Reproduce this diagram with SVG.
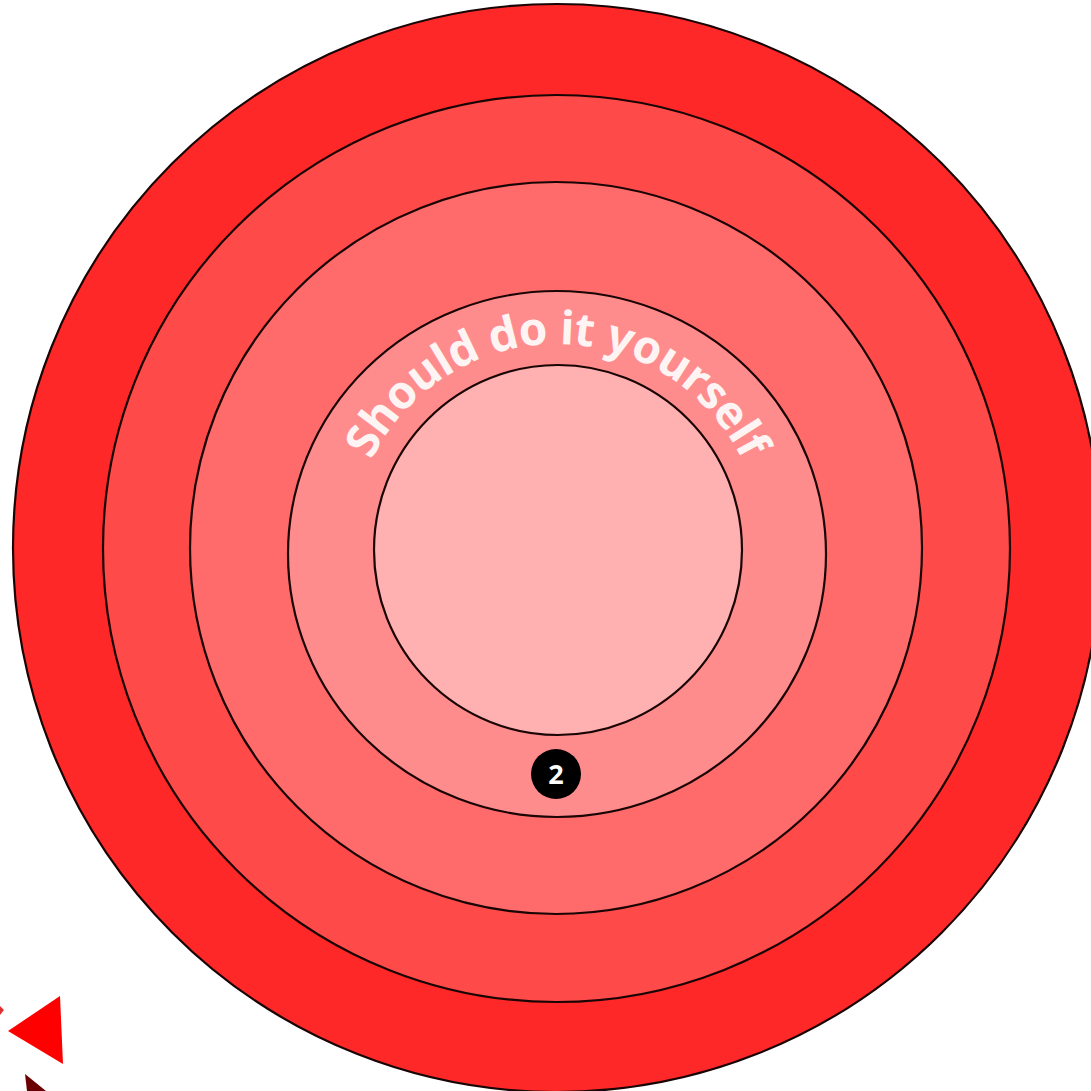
<svg xmlns="http://www.w3.org/2000/svg" width="1091" height="1091" viewBox="0 0 1091 1091">
  <style>
    .ring { stroke: #1a0505; stroke-width: 2.2; }
    .label { font-family: "Noto Sans", "Open Sans", "Liberation Sans", sans-serif; font-weight: bold; fill: #fff4f4; }
  </style>
  <defs>
    <path id="arcText" d="M 351,550 A 206 206 0 0 1 763,550"/>
  </defs>
  <rect width="1091" height="1091" fill="#ffffff"/>
  <g id="ring-1">
    <circle class="ring" cx="557" cy="548" r="544" fill="#ff2828"/>
  </g>
  <g id="ring-2">
    <circle class="ring" cx="556.5" cy="548.5" r="453.5" fill="#ff4a4a"/>
  </g>
  <g id="ring-3">
    <circle class="ring" cx="556" cy="548" r="366" fill="#ff6b6b"/>
  </g>
  <g id="ring-4">
    <ellipse class="ring" cx="557" cy="554" rx="269" ry="263" fill="#ff8c8c"/>
    <text class="label" font-size="46" letter-spacing="-0.5">
      <textPath href="#arcText" startOffset="50%" text-anchor="middle">Should do it yourself</textPath>
    </text>
  </g>
  <g id="ring-5">
    <ellipse class="ring" cx="558" cy="550" rx="184" ry="185" fill="#ffb0b0"/>
  </g>
  <g id="badge-2">
    <circle cx="556" cy="774" r="25" fill="#000000"/>
    <text x="556" y="784" font-family="Noto Sans, Liberation Sans, sans-serif" font-weight="bold" font-size="27" fill="#ffffff" text-anchor="middle">2</text>
  </g>
  <g id="connectors">
    <polygon points="8,1031 60,996 63,1064" fill="#ff0000"/>
    <polygon points="0,1006 4,1010 0,1015" fill="#e03030"/>
    <polygon points="25,1074 27,1091 46,1091" fill="#6b0000"/>
  </g>
</svg>
